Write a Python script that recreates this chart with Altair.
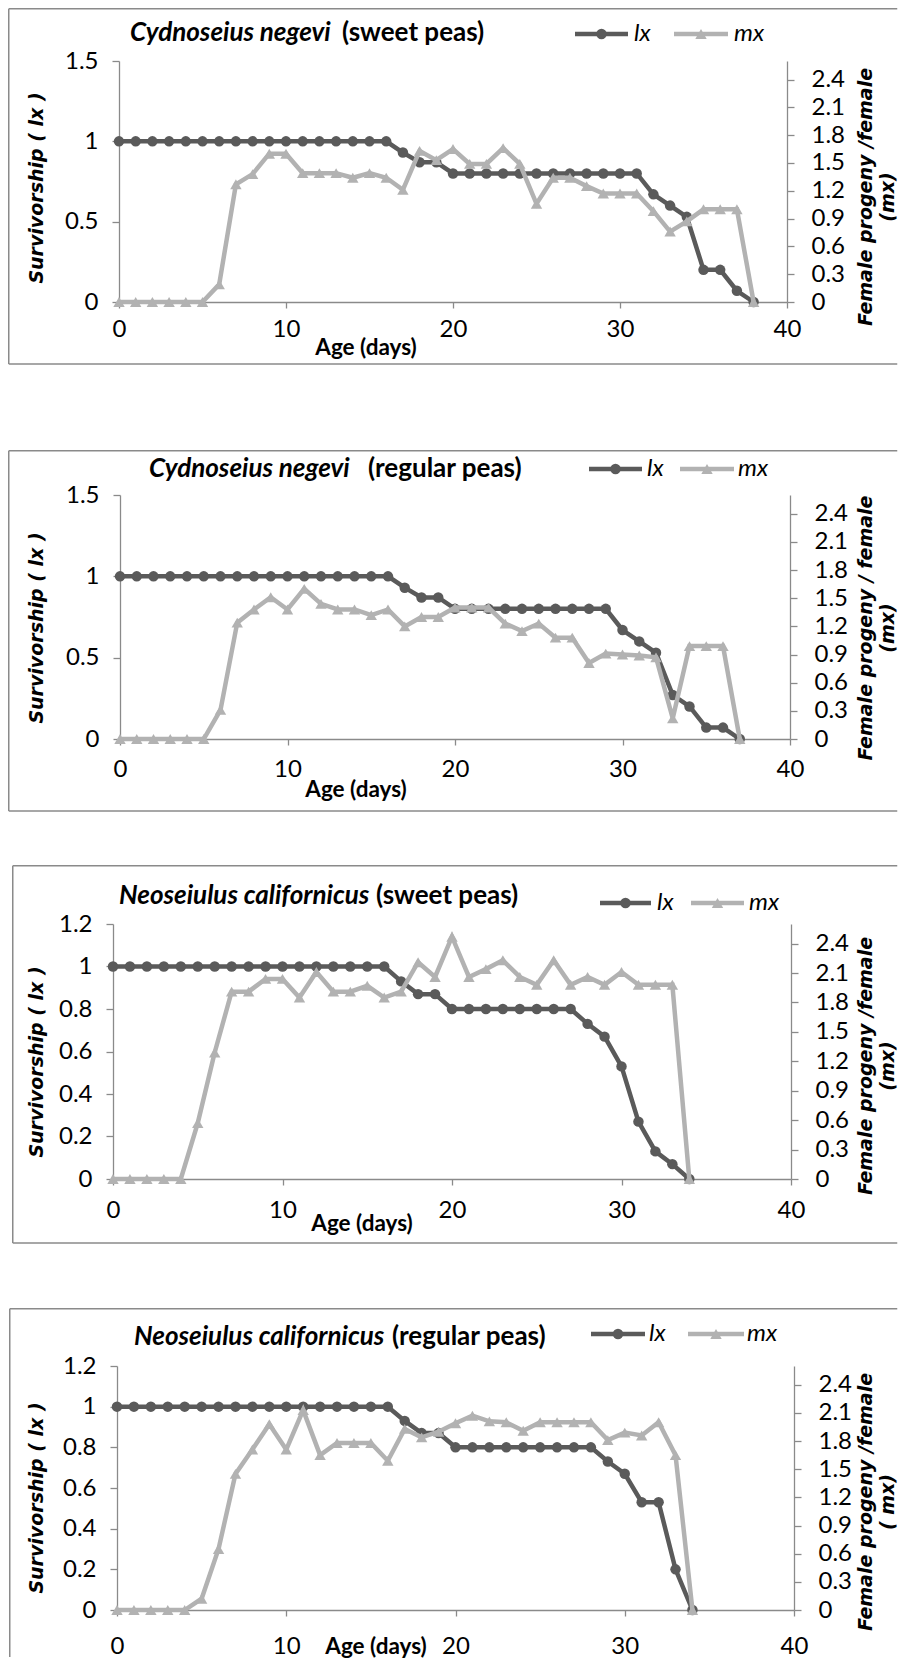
import altair as alt
import pandas as pd

DARK = "#5a5a5a"
LIGHT = "#b2b2b2"
AXIS_GRAY = "#8a8a8a"
SANS = "Lato"
VERD = "DejaVu Sans"

# ---------------- data ----------------
ages_cn_sweet = list(range(0, 39))
lx_cn_sweet = [1] * 17 + [0.93, 0.87, 0.87] + [0.8] * 12 + [0.67, 0.6, 0.53, 0.2, 0.2, 0.07, 0]
mx_cn_sweet = [0, 0, 0, 0, 0, 0, 0.19, 1.27, 1.38, 1.6, 1.6, 1.39, 1.39, 1.39, 1.34, 1.39, 1.34,
               1.21, 1.63, 1.53, 1.65, 1.49, 1.49, 1.66, 1.49, 1.06, 1.34, 1.34, 1.25, 1.17, 1.17,
               1.17, 0.98, 0.76, 0.87, 1.0, 1.0, 1.0, 0]

ages_cn_reg = list(range(0, 38))
lx_cn_reg = [1] * 17 + [0.93, 0.87, 0.87] + [0.8] * 10 + [0.67, 0.6, 0.53, 0.27, 0.2, 0.07, 0.07, 0]
mx_cn_reg = [0, 0, 0, 0, 0, 0, 0.31, 1.24, 1.38, 1.51, 1.38, 1.6, 1.44, 1.38, 1.38, 1.32, 1.38,
             1.2, 1.3, 1.3, 1.4, 1.4, 1.4, 1.23, 1.15, 1.23, 1.08, 1.08, 0.81, 0.91, 0.9, 0.89,
             0.87, 0.22, 0.99, 0.99, 0.99, 0]

ages_nc_sweet = list(range(0, 35))
lx_nc_sweet = [1] * 17 + [0.93, 0.87, 0.87] + [0.8] * 8 + [0.73, 0.67, 0.53, 0.27, 0.13, 0.07, 0]
mx_nc_sweet = [0, 0, 0, 0, 0, 0.57, 1.29, 1.91, 1.91, 2.04, 2.04, 1.85, 2.11, 1.91, 1.91, 1.97,
               1.85, 1.91, 2.21, 2.06, 2.47, 2.06, 2.14, 2.23, 2.06, 1.98, 2.23, 1.98, 2.06, 1.98,
               2.11, 1.98, 1.98, 1.98, 0]

ages_nc_reg = list(range(0, 35))
lx_nc_reg = [1] * 17 + [0.93, 0.87, 0.87] + [0.8] * 9 + [0.73, 0.67, 0.53, 0.53, 0.2, 0]
mx_nc_reg = [0, 0, 0, 0, 0, 0.12, 0.65, 1.45, 1.71, 1.98, 1.71, 2.13, 1.65, 1.78, 1.78, 1.78,
             1.59, 1.93, 1.84, 1.9, 1.99, 2.07, 2.01, 2.0, 1.91, 2.0, 2.0, 2.0, 2.0, 1.81, 1.89,
             1.86, 2.0, 1.65, 0]

x_ticks = [0, 10, 20, 30, 40]
lx_ticks_a = [0, 0.5, 1, 1.5]
lx_ticks_b = [0, 0.2, 0.4, 0.6, 0.8, 1, 1.2]
mx_ticks = [0, 0.3, 0.6, 0.9, 1.2, 1.5, 1.8, 2.1, 2.4]

# ---------------- layout (page pixel coordinates) ----------------
PANELS = [
    dict(ages=ages_cn_sweet, lx=lx_cn_sweet, mx=mx_cn_sweet, lmax=1.5, lticks=lx_ticks_a,
         left=119, right=787, top=61, bottom=302, lpad=9,
         frame=(8, 445), border=(8, 8, 364),
         t1="Cydnoseius negevi", t2="(sweet peas)", t1x=130, t2x=342, ty=33,
         leg=(575, 628, 634, 674, 728, 734, 34),
         ltitle="Survivorship ( lx )", r1="Female progeny /female", r2="(mx)",
         ly=188, ry=197, agex=366, agey=348),
    dict(ages=ages_cn_reg, lx=lx_cn_reg, mx=mx_cn_reg, lmax=1.5, lticks=lx_ticks_a,
         left=120, right=790, top=495, bottom=739, lpad=12,
         frame=(445, 865), border=(8, 450, 811),
         t1="Cydnoseius  negevi", t2="(regular peas)", t1x=149, t2x=368, ty=469,
         leg=(589, 642, 647, 680, 734, 738, 469),
         ltitle="Survivorship ( lx )", r1="Female progeny / female", r2="(mx)",
         ly=628, ry=628, agex=356, agey=790),
    dict(ages=ages_nc_sweet, lx=lx_nc_sweet, mx=mx_nc_sweet, lmax=1.2, lticks=lx_ticks_b,
         left=113, right=791, top=924, bottom=1179, lpad=13,
         frame=(865, 1308), border=(12, 865, 1243),
         t1="Neoseiulus californicus", t2="(sweet peas)", t1x=119, t2x=376, ty=896,
         leg=(600, 651, 657, 691, 744, 749, 903),
         ltitle="Survivorship ( lx )", r1="Female progeny /female", r2="(mx)",
         ly=1062, ry=1066, agex=362, agey=1224),
    dict(ages=ages_nc_reg, lx=lx_nc_reg, mx=mx_nc_reg, lmax=1.2, lticks=lx_ticks_b,
         left=117, right=794, top=1366, bottom=1610, lpad=18,
         frame=(1308, 1658), border=(9, 1308, None),
         t1="Neoseiulus californicus", t2="(regular peas)", t1x=134, t2x=392, ty=1337,
         leg=(591, 645, 649, 688, 744, 747, 1334),
         ltitle="Survivorship ( lx )", r1="Female progeny /female", r2="( mx)",
         ly=1498, ry=1502, agex=376, agey=1646.5),
]

PAGE_L, PAGE_R = 8, 898
L0 = min(p["left"] for p in PANELS)  # common plot origin (vconcat aligns origins)


def one():
    return alt.Data(values=[{"k": 0}])


def build(p):
    T = p["top"]
    W, H = p["right"] - L0, p["bottom"] - T
    shift = p["left"] - L0

    def X(v):
        return alt.value(v - L0)

    def Y(v):
        return alt.value(v - T)

    layers = []
    # invisible frame defining the panel's extent
    f0, f1 = p["frame"]
    layers.append(alt.Chart(one()).mark_rect(opacity=0).encode(
        x=X(PAGE_L), x2=X(PAGE_R), y=Y(f0), y2=Y(f1)))
    # visible chart-area border (left, top, bottom)
    bl, bt, bb = p["border"]
    bstyle = dict(color=AXIS_GRAY, strokeWidth=1.5)
    layers.append(alt.Chart(one()).mark_rule(**bstyle).encode(
        x=X(bl + 0.75), x2=X(PAGE_R - 0.75), y=Y(bt + 0.75)))
    layers.append(alt.Chart(one()).mark_rule(**bstyle).encode(
        x=X(bl + 0.75), y=Y(bt + 0.75), y2=Y(bb if bb else f1 - 1)))
    if bb:
        layers.append(alt.Chart(one()).mark_rule(**bstyle).encode(
            x=X(bl + 0.75), x2=X(PAGE_R - 0.75), y=Y(bb)))

    df = pd.DataFrame({"Age": p["ages"], "lx": p["lx"], "mx": p["mx"]})
    xaxis = alt.Axis(values=x_ticks, title=None, grid=False, domainColor=AXIS_GRAY,
                     domainWidth=1.3, tickColor=AXIS_GRAY, tickWidth=1.3, tickSize=6,
                     labelFont=SANS, labelFontSize=24, labelColor="black",
                     labelPadding=p["lpad"], labelFlush=False, labelOverlap=False)
    xenc = alt.X("Age:Q", scale=alt.Scale(domain=[0, 40], nice=False, zero=False,
                                          range=[shift, W]), axis=xaxis)

    laxis = alt.Axis(values=p["lticks"], format="~g", title=None, grid=False, orient="left",
                     offset=-shift,
                     domainColor=AXIS_GRAY, domainWidth=1.3, tickColor=AXIS_GRAY, tickWidth=1.3,
                     tickSize=7, labelFont=SANS, labelFontSize=24, labelColor="black",
                     labelPadding=14, labelFlush=False, labelOverlap=False)
    raxis = alt.Axis(values=mx_ticks, format="~g", title=None, grid=False, orient="right",
                     domainColor=AXIS_GRAY, domainWidth=1.3, tickColor=AXIS_GRAY, tickWidth=1.3,
                     tickSize=7, labelFont=SANS, labelFontSize=24, labelColor="black",
                     labelPadding=17, labelFlush=False, labelOverlap=False)

    lx_layer = alt.Chart(df).mark_line(
        color=DARK, strokeWidth=4.5,
        point=alt.OverlayMarkDef(shape="circle", filled=True, size=110, color=DARK, opacity=1)
    ).encode(x=xenc, y=alt.Y("lx:Q", scale=alt.Scale(domain=[0, p["lmax"]], nice=False), axis=laxis))
    mx_layer = alt.Chart(df).mark_line(
        color=LIGHT, strokeWidth=4.5,
        point=alt.OverlayMarkDef(shape="triangle-up", filled=True, size=130, color=LIGHT, opacity=1)
    ).encode(x=xenc, y=alt.Y("mx:Q", scale=alt.Scale(domain=[0, 2.6], nice=False), axis=raxis))

    data_layer = alt.layer(lx_layer, mx_layer).resolve_scale(y="independent")

    def txt(s, x, y, size, weight="normal", style="normal", font=SANS, align="left", angle=0):
        kw = dict(text=s, font=font, fontSize=size, fontWeight=weight, fontStyle=style,
                  align=align, baseline="middle", color="black")
        if angle:
            kw["angle"] = angle
        return alt.Chart(one()).mark_text(**kw).encode(x=X(x), y=Y(y))

    deco = []
    deco.append(txt(p["t1"], p["t1x"], p["ty"], 26, "bold", "italic"))
    deco.append(txt(p["t2"], p["t2x"], p["ty"], 26, "bold"))
    a0, a1, atx, b0, b1, btx, ly = p["leg"]
    deco.append(alt.Chart(one()).mark_rule(color=DARK, strokeWidth=4.5).encode(
        x=X(a0), x2=X(a1), y=Y(ly)))
    deco.append(alt.Chart(one()).mark_point(shape="circle", filled=True, size=110, color=DARK,
                                            opacity=1).encode(x=X((a0 + a1) / 2), y=Y(ly)))
    deco.append(txt("lx", atx, ly, 24, style="italic"))
    deco.append(alt.Chart(one()).mark_rule(color=LIGHT, strokeWidth=4.5).encode(
        x=X(b0), x2=X(b1), y=Y(ly)))
    deco.append(alt.Chart(one()).mark_point(shape="triangle-up", filled=True, size=130,
                                            color=LIGHT, opacity=1).encode(
        x=X((b0 + b1) / 2), y=Y(ly)))
    deco.append(txt("mx", btx, ly, 24, style="italic"))
    deco.append(txt(p["ltitle"], 37, p["ly"], 19, "bold", "italic", VERD, "center", 270))
    deco.append(txt(p["r1"], 866, p["ry"], 19, "bold", "italic", VERD, "center", 270))
    deco.append(txt(p["r2"], 887.5, p["ry"], 19, "bold", "italic", VERD, "center", 270))
    deco.append(txt("Age (days)", p["agex"], p["agey"], 22.5, "bold", align="center"))

    return alt.layer(*layers, data_layer, *deco).resolve_scale(y="independent").properties(
        width=W, height=H)


chart = alt.vconcat(*[build(p) for p in PANELS], spacing=0).properties(
    padding=0).configure_view(stroke=None)

chart.save("out.html", embed_options={"renderer": "svg", "actions": False})
